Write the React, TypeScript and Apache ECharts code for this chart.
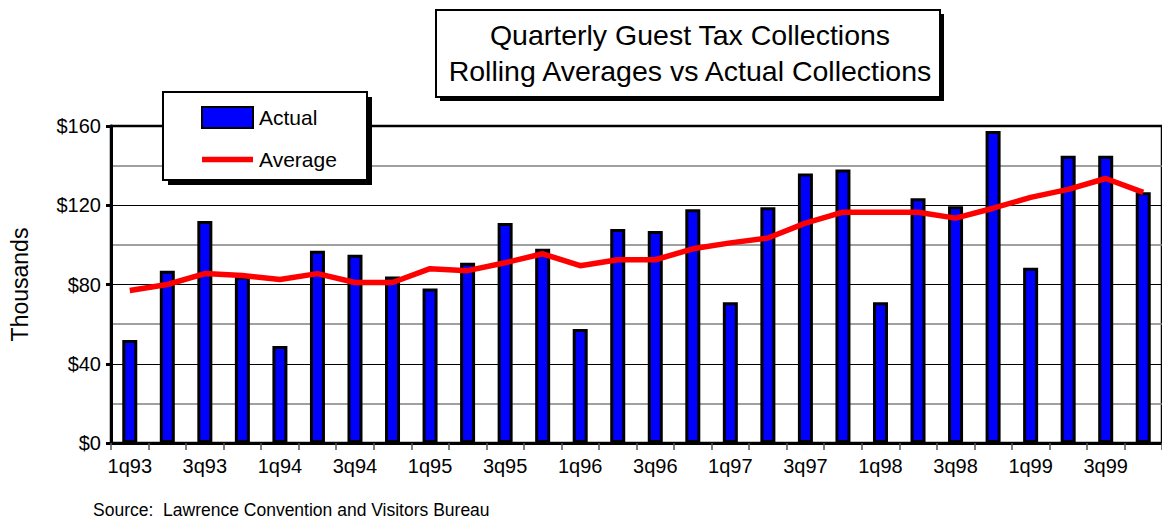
import React, { useEffect, useRef } from "react";
import * as echarts from "echarts";

const categories = [
  "1q93", "2q93", "3q93", "4q93",
  "1q94", "2q94", "3q94", "4q94",
  "1q95", "2q95", "3q95", "4q95",
  "1q96", "2q96", "3q96", "4q96",
  "1q97", "2q97", "3q97", "4q97",
  "1q98", "2q98", "3q98", "4q98",
  "1q99", "2q99", "3q99", "4q99",
];

const actual = [
  52, 87, 112, 84,
  49, 97, 95, 84,
  78, 91, 111, 98,
  57.5, 108, 107, 118,
  71, 119, 136, 138,
  71, 123.5, 119.5, 157.5,
  88.5, 145, 145, 126.5,
];

const average = [
  77, 80, 85.5, 84.5,
  82.5, 85.5, 81, 81,
  88, 87, 91, 95.5,
  89.5, 92.5, 92.5, 98,
  101, 103.5, 111, 116.5,
  116.5, 116.5, 113.5, 118.5,
  124, 128, 133.5, 126.5,
];

const titleLines = ["Quarterly Guest Tax Collections", "Rolling Averages vs Actual Collections"];
const yAxisName = "Thousands";
const sourceNote = "Source:  Lawrence Convention and Visitors Bureau";

const FONT = "'Liberation Sans', Arial, Helvetica, sans-serif";

export default function App() {
  const ref = useRef<HTMLDivElement>(null);

  useEffect(() => {
    if (!ref.current) return;
    const chart = echarts.init(ref.current, undefined, { renderer: "svg" });
    chart.setOption({
      animation: false,
      backgroundColor: "#ffffff",
      textStyle: { fontFamily: FONT },
      title: {
        text: titleLines.join("\n"),
        left: 690,
        top: 17,
        textAlign: "center",
        padding: 0,
        z: 30,
        textStyle: {
          fontFamily: FONT,
          fontSize: 28.5,
          fontWeight: "normal",
          color: "#000",
          lineHeight: 36,
        },
      },
      legend: {
        orient: "vertical",
        left: 201,
        top: 106,
        padding: 0,
        itemWidth: 51,
        itemHeight: 21,
        itemGap: 20,
        z: 30,
        textStyle: { fontFamily: FONT, fontSize: 21, color: "#000", padding: [0, 0, 0, 1] },
        data: [
          { name: "Actual", icon: "rect" },
          {
            name: "Average",
            icon: "path://M0,0L51,0L51,5.5L0,5.5Z",
            itemStyle: { color: "#ff0000", borderWidth: 0 },
          },
        ],
      },
      grid: {
        left: 110,
        top: 126,
        right: -2,
        bottom: 78,
        show: true,
        borderColor: "#000",
        borderWidth: 2.5,
        backgroundColor: "transparent",
      },
      xAxis: {
        type: "category",
        data: categories,
        boundaryGap: true,
        axisLine: { show: true, lineStyle: { color: "#000", width: 3 } },
        axisTick: { show: true, interval: 0, length: 7, lineStyle: { color: "#555", width: 1.5 } },
        axisLabel: { interval: 1, fontFamily: FONT, fontSize: 20, color: "#000", margin: 13 },
        splitLine: { show: false },
      },
      yAxis: {
        type: "value",
        min: 0,
        max: 160,
        interval: 40,
        name: yAxisName,
        nameLocation: "middle",
        nameRotate: 90,
        nameGap: 80,
        nameTextStyle: { fontFamily: FONT, fontSize: 23, color: "#000" },
        axisLine: { show: true, lineStyle: { color: "#000", width: 3 } },
        axisTick: { show: true, length: 5, lineStyle: { color: "#000", width: 3 } },
        axisLabel: {
          formatter: (v: number) => "$" + v,
          fontFamily: FONT,
          fontSize: 20,
          color: "#000",
          margin: 10,
        },
        splitLine: { show: true, lineStyle: { color: "#000", width: 1 } },
        minorTick: { show: false, splitNumber: 2 },
        minorSplitLine: { show: true, lineStyle: { color: "#808080", width: 1.5 } },
      },
      graphic: [
        { type: "rect", z: 20, shape: { x: 440, y: 14, width: 504, height: 87 }, style: { fill: "#000" } },
        { type: "rect", z: 21, shape: { x: 436, y: 10, width: 504, height: 87 }, style: { fill: "#fff", stroke: "#000", lineWidth: 2 } },
        { type: "rect", z: 20, shape: { x: 168, y: 97, width: 204, height: 88 }, style: { fill: "#000" } },
        { type: "rect", z: 21, shape: { x: 163, y: 92, width: 204, height: 88 }, style: { fill: "#fff", stroke: "#000", lineWidth: 2 } },
        {
          type: "text",
          z: 30,
          x: 93,
          y: 510,
          style: { text: sourceNote, font: "17.5px " + FONT, fill: "#000", verticalAlign: "middle" },
        },
      ],
      series: [
        {
          name: "Actual",
          type: "bar",
          data: actual,
          barWidth: 15,
          itemStyle: { color: "#0000ff", borderColor: "#000", borderWidth: 3 },
          z: 2,
        },
        {
          name: "Average",
          type: "line",
          data: average,
          symbol: "none",
          lineStyle: { color: "#ff0000", width: 5.5 },
          itemStyle: { color: "#ff0000" },
          z: 3,
        },
      ],
    });
    return () => chart.dispose();
  }, []);

  return (
    <div
      ref={ref}
      style={{ position: "absolute", left: 0, top: 0, width: 1162, height: 521 }}
    />
  );
}
